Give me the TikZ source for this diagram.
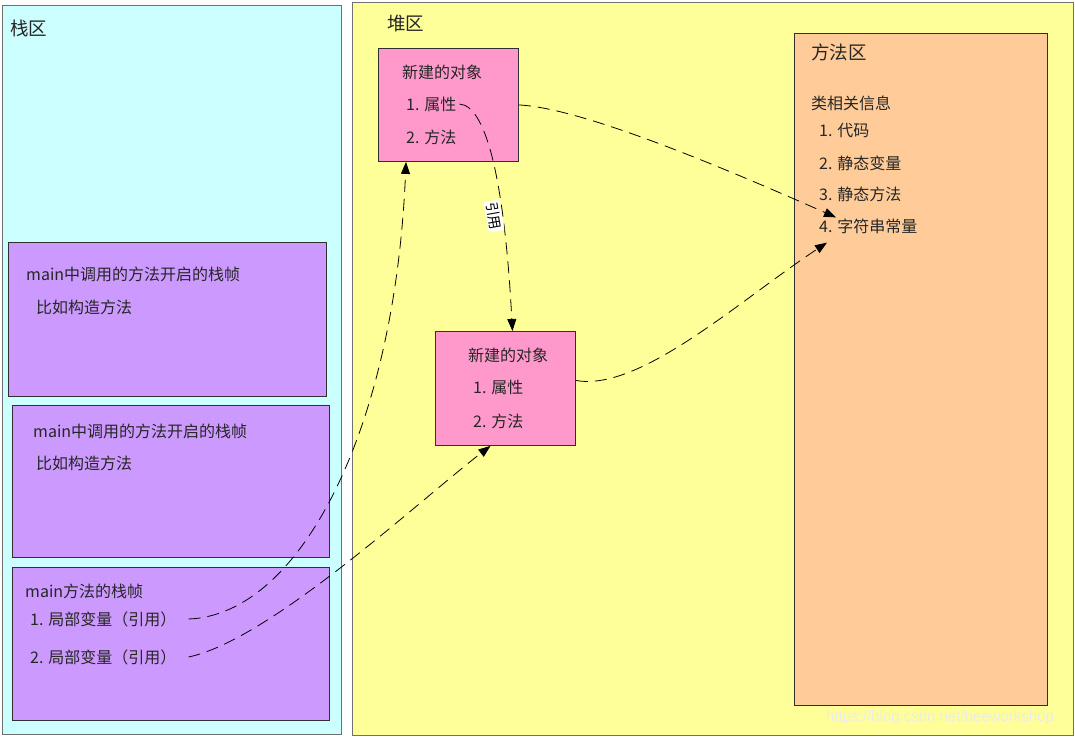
\documentclass[tikz,border=0pt]{standalone}
\usepackage{fontspec}
\setmainfont{Noto Sans CJK SC}
\newfontfamily\wmfont{Liberation Sans}
\usetikzlibrary{arrows.meta,calc}
\definecolor{stackc}{HTML}{CCFFFF}
\definecolor{heapc}{HTML}{FFFF99}
\definecolor{methodc}{HTML}{FFCC99}
\definecolor{objc}{HTML}{FF99CC}
\definecolor{framec}{HTML}{CC99FF}
\definecolor{outerline}{HTML}{707070}
\definecolor{innerline}{HTML}{303030}
\begin{document}
\begin{tikzpicture}[x=1pt,y=-1pt,
  area/.style={draw=outerline, line width=1.4pt, fill=#1, anchor=north west, inner sep=0pt},
  box/.style={draw=innerline, line width=0.9pt, fill=#1, anchor=north west, inner sep=0pt},
  txt/.style={anchor=west, inner sep=0pt, text=black!85, font=\fontsize{16}{19}\selectfont},
  ttl/.style={anchor=west, inner sep=0pt, text=black!85, font=\fontsize{18.5}{21}\selectfont},
  ref/.style={draw=black, line width=0.8pt, dash pattern=on 12pt off 7pt, -{Triangle[length=12pt,width=9pt]}},
  lbl/.style={fill=white, inner sep=1.5pt, font=\fontsize{14}{16}\selectfont, rotate=-80}
]
\useasboundingbox (0,0) rectangle (1075,737);
% areas
\node[area=stackc, minimum width=339pt, minimum height=729pt] (stack) at (2,5) {};
\node[area=heapc, minimum width=721pt, minimum height=733pt] (heap) at (352,2) {};
\node[box=methodc, minimum width=253pt, minimum height=672pt] (method) at (794,33) {};
% stack frames
\node[box=framec, minimum width=318pt, minimum height=154pt] (fa) at (8,242) {};
\node[box=framec, minimum width=317pt, minimum height=152pt] (fb) at (12,405) {};
\node[box=framec, minimum width=317pt, minimum height=153pt] (fc) at (12,567) {};
% heap objects
\node[box=objc, minimum width=140pt, minimum height=113pt] (o1) at (378,48) {};
\node[box=objc, minimum width=140pt, minimum height=114pt] (o2) at (435,331) {};
% titles
\node[ttl] (tstack) at (10,28) {栈区};
\node[ttl] (theap) at (387,24) {堆区};
\node[ttl] (tmethod) at (811,52) {方法区};
% method area text
\node[txt] (m0) at (811,103) {类相关信息};
\node[txt] (m1) at (819,131) {1. 代码};
\node[txt] (m2) at (819,163) {2. 静态变量};
\node[txt] (m3) at (819,194) {3. 静态方法};
\node[txt] (m4) at (819,226) {4. 字符串常量};
% object texts
\node[txt] (o1t) at (402,72) {新建的对象};
\node[txt] (o1a) at (406,104) {1. 属性};
\node[txt] (o1m) at (406,137) {2. 方法};
\node[txt] (o2t) at (468,355) {新建的对象};
\node[txt] (o2a) at (473,387) {1. 属性};
\node[txt] (o2m) at (473,421) {2. 方法};
% frame texts
\node[txt] (fat) at (26,274) {main中调用的方法开启的栈帧};
\node[txt] (fas) at (36,307) {比如构造方法};
\node[txt] (fbt) at (33,431) {main中调用的方法开启的栈帧};
\node[txt] (fbs) at (36,463) {比如构造方法};
\node[txt] (fct) at (25,591) {main方法的栈帧};
\node[txt] (l1) at (30,619) {1. 局部变量（引用）};
\node[txt] (l2) at (30,657) {2. 局部变量（引用）};
% watermark
\node[anchor=west, inner sep=0pt, text=white!85!gray, font=\wmfont\fontsize{15}{17}\selectfont] (wm) at (826,718) {https://blog.csdn.net/beeworkshop};
% connectors
\draw[ref] ([xshift=3pt]o1a.east) .. controls (488,106) and (505,190) .. ([xshift=7pt]o2.north);
\node[lbl] (reflbl) at (494,216) {引用};
\draw[ref] (o1.east) .. controls (585,108) and (740,175) .. ($(m4.north west)+(17,-1)$);
\draw[ref] ($(o2.east)+(0,-8)$) .. controls (640,392) and (740,300) .. ($(m4.south west)+(8,9)$);
\draw[ref] ([xshift=12pt]l1.east) .. controls (300,615) and (395,430) .. ($(o1.south west)+(28,0)$);
\draw[ref] ([xshift=12pt]l2.east) .. controls (270,640) and (420,500) .. ($(o2.south)+(-15,0)$);
\end{tikzpicture}
\end{document}
